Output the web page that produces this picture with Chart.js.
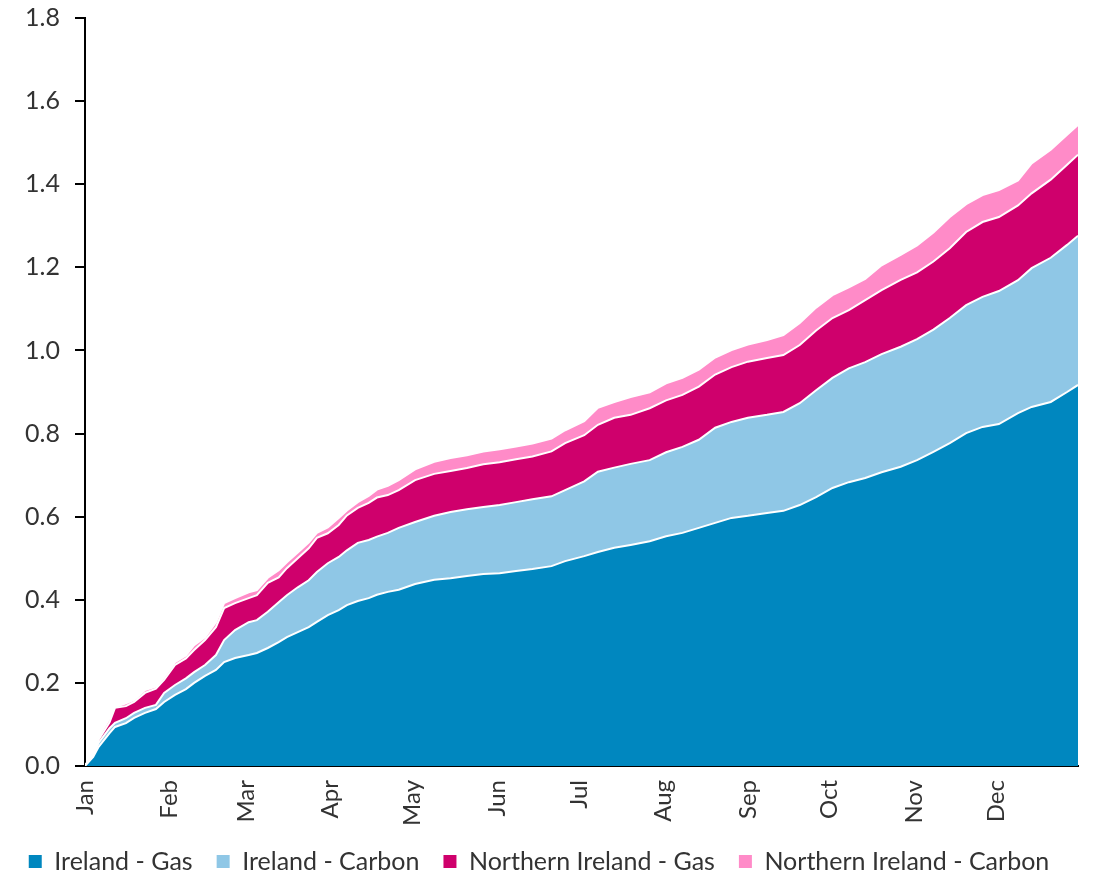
<!DOCTYPE html>
<html>
<head>
<meta charset="utf-8">
<script src="https://cdn.jsdelivr.net/npm/chart.js@4.4.1/dist/chart.umd.min.js"></script>
<style>
  html, body { margin: 0; padding: 0; background: #fff; }
  #wrap { width: 1097px; height: 876px; }
</style>
</head>
<body>
<div id="wrap"><canvas id="cumulative-chart"></canvas></div>
<script>
// day of year for each reading (0 = 1 Jan)
const days = [0, 3, 5, 9, 11, 15, 18, 22, 26, 29, 33, 37, 40, 44, 48, 51, 55, 60, 63, 67,
  71, 74, 78, 82, 85, 89, 93, 96, 100, 104, 107, 111, 115, 121, 128, 134, 140, 146, 152, 158,
  164, 171, 176, 183, 188, 194, 200, 207, 213, 219, 225, 231, 237, 243, 250, 256, 262, 268, 274, 280,
  286, 292, 299, 305, 311, 317, 323, 329, 335, 342, 347, 354, 360, 364];

const irelandGas = [0, 0.022, 0.046, 0.079, 0.094, 0.103, 0.116, 0.128, 0.137, 0.154,
  0.171, 0.185, 0.200, 0.217, 0.231, 0.250, 0.260, 0.267, 0.272, 0.284,
  0.298, 0.310, 0.322, 0.334, 0.347, 0.363, 0.375, 0.387, 0.397, 0.404,
  0.412, 0.419, 0.424, 0.438, 0.448, 0.452, 0.457, 0.462, 0.464, 0.469,
  0.474, 0.481, 0.493, 0.505, 0.515, 0.525, 0.532, 0.541, 0.553, 0.561,
  0.573, 0.585, 0.597, 0.602, 0.609, 0.614, 0.628, 0.647, 0.669, 0.683,
  0.693, 0.707, 0.720, 0.736, 0.756, 0.777, 0.801, 0.816, 0.823, 0.849,
  0.864, 0.876, 0.900, 0.917];

const irelandCarbon = [0, 0.005, 0.010, 0.012, 0.010, 0.012, 0.012, 0.012, 0.010, 0.022,
  0.024, 0.026, 0.026, 0.026, 0.036, 0.053, 0.067, 0.079, 0.079, 0.087,
  0.096, 0.101, 0.108, 0.113, 0.120, 0.125, 0.128, 0.132, 0.140, 0.140,
  0.140, 0.142, 0.149, 0.149, 0.154, 0.159, 0.161, 0.161, 0.164, 0.166,
  0.168, 0.168, 0.171, 0.180, 0.193, 0.193, 0.195, 0.195, 0.202, 0.207,
  0.212, 0.229, 0.231, 0.236, 0.236, 0.238, 0.245, 0.257, 0.265, 0.274,
  0.279, 0.284, 0.289, 0.291, 0.294, 0.301, 0.308, 0.313, 0.320, 0.320,
  0.334, 0.347, 0.354, 0.359];

const niGas = [0, 0.005, 0.007, 0.014, 0.036, 0.029, 0.026, 0.036, 0.039, 0.031,
  0.048, 0.048, 0.053, 0.060, 0.067, 0.077, 0.065, 0.058, 0.060, 0.070,
  0.060, 0.065, 0.070, 0.077, 0.082, 0.072, 0.077, 0.084, 0.084, 0.089,
  0.094, 0.091, 0.091, 0.101, 0.101, 0.099, 0.099, 0.103, 0.103, 0.103,
  0.103, 0.108, 0.113, 0.111, 0.113, 0.120, 0.118, 0.125, 0.125, 0.125,
  0.128, 0.128, 0.132, 0.135, 0.137, 0.137, 0.140, 0.144, 0.144, 0.140,
  0.149, 0.154, 0.161, 0.161, 0.164, 0.168, 0.176, 0.180, 0.178, 0.180,
  0.180, 0.188, 0.193, 0.195];

const niCarbon = [0, 0.002, 0.007, 0.010, 0.002, 0.007, 0.005, 0.007, 0.005, 0.007,
  0.007, 0.007, 0.012, 0.007, 0.012, 0.012, 0.012, 0.014, 0.012, 0.012,
  0.017, 0.014, 0.014, 0.014, 0.012, 0.014, 0.017, 0.012, 0.014, 0.017,
  0.019, 0.022, 0.024, 0.026, 0.029, 0.031, 0.031, 0.031, 0.031, 0.031,
  0.031, 0.031, 0.031, 0.034, 0.041, 0.038, 0.043, 0.038, 0.041, 0.041,
  0.041, 0.041, 0.041, 0.041, 0.043, 0.048, 0.053, 0.055, 0.055, 0.055,
  0.051, 0.060, 0.060, 0.065, 0.070, 0.075, 0.067, 0.065, 0.065, 0.060,
  0.072, 0.072, 0.072, 0.072];

const monthStarts = [0, 31, 59, 90, 120, 151, 181, 212, 243, 273, 304, 334];
const monthNames = ["Jan", "Feb", "Mar", "Apr", "May", "Jun", "Jul", "Aug", "Sep", "Oct", "Nov", "Dec"];
const yTicks = [0, 0.2, 0.4, 0.6, 0.8, 1.0, 1.2, 1.4, 1.6, 1.8];

const seriesNames = ["Ireland - Gas", "Ireland - Carbon", "Northern Ireland - Gas", "Northern Ireland - Carbon"];
const seriesColours = ["#0087bf", "#8fc7e6", "#cf006c", "#ff8bc8"];
const seriesValues = [irelandGas, irelandCarbon, niGas, niCarbon];

const FONT = "Lato, 'Open Sans', sans-serif";
const TEXT = "#333333";

function toPoints(values) {
  return values.map((v, i) => ({ x: days[i], y: v }));
}

const datasets = seriesValues.map((values, i) => ({
  label: seriesNames[i],
  data: toPoints(values),
  backgroundColor: seriesColours[i],
  borderColor: "#ffffff",
  borderWidth: 2,
  pointRadius: 0,
  tension: 0,
  fill: i === 0 ? "origin" : "-1",
}));

// short outside tick marks on the value axis
const yTickMarks = {
  id: "yTickMarks",
  afterDraw(chart) {
    const scale = chart.scales.y;
    const ctx = chart.ctx;
    const x = scale.right;
    ctx.save();
    ctx.strokeStyle = "#000000";
    ctx.lineWidth = 2;
    ctx.setLineDash([]);
    yTicks.forEach((v) => {
      const py = Math.round(scale.getPixelForValue(v));
      ctx.beginPath();
      ctx.moveTo(x - 10, py);
      ctx.lineTo(x, py);
      ctx.stroke();
    });
    ctx.restore();
  },
};

new Chart(document.getElementById("cumulative-chart"), {
  type: "line",
  data: { datasets },
  plugins: [yTickMarks],
  options: {
    responsive: true,
    maintainAspectRatio: false,
    animation: false,
    layout: { padding: { left: 0, right: 19, top: 0, bottom: -8 } },
    plugins: {
      tooltip: { enabled: false },
      legend: {
        position: "bottom",
        labels: {
          boxWidth: 13,
          boxHeight: 13,
          padding: 24,
          color: TEXT,
          font: { family: FONT, size: 25 },
          generateLabels(chart) {
            const items = Chart.defaults.plugins.legend.labels.generateLabels(chart);
            items.forEach((item) => {
              item.strokeStyle = item.fillStyle;
              item.lineWidth = 0;
            });
            return items;
          },
        },
      },
    },
    scales: {
      x: {
        type: "linear",
        min: 0,
        max: 364,
        afterBuildTicks: (axis) => {
          axis.ticks = monthStarts.map((v) => ({ value: v }));
        },
        afterFit: (axis) => {
          axis.height = 59;
        },
        grid: { display: false, drawTicks: false },
        border: { display: true, color: "#000000", width: 2 },
        ticks: {
          autoSkip: false,
          maxRotation: 90,
          minRotation: 90,
          padding: 14,
          color: TEXT,
          font: { family: FONT, size: 24 },
          callback: (value) => monthNames[monthStarts.indexOf(value)],
        },
      },
      y: {
        stacked: true,
        min: 0,
        max: 1.8,
        afterBuildTicks: (axis) => {
          axis.ticks = yTicks.map((v) => ({ value: v }));
        },
        afterFit: (axis) => {
          axis.width = 85;
          axis.paddingTop = 18;
          axis.paddingBottom = 15;
        },
        grid: { display: false, drawTicks: false },
        border: { display: true, color: "#000000", width: 2 },
        ticks: {
          padding: 25,
          color: TEXT,
          font: { family: FONT, size: 25 },
          callback: (value) => value.toFixed(1),
        },
      },
    },
  },
});
</script>
</body>
</html>
